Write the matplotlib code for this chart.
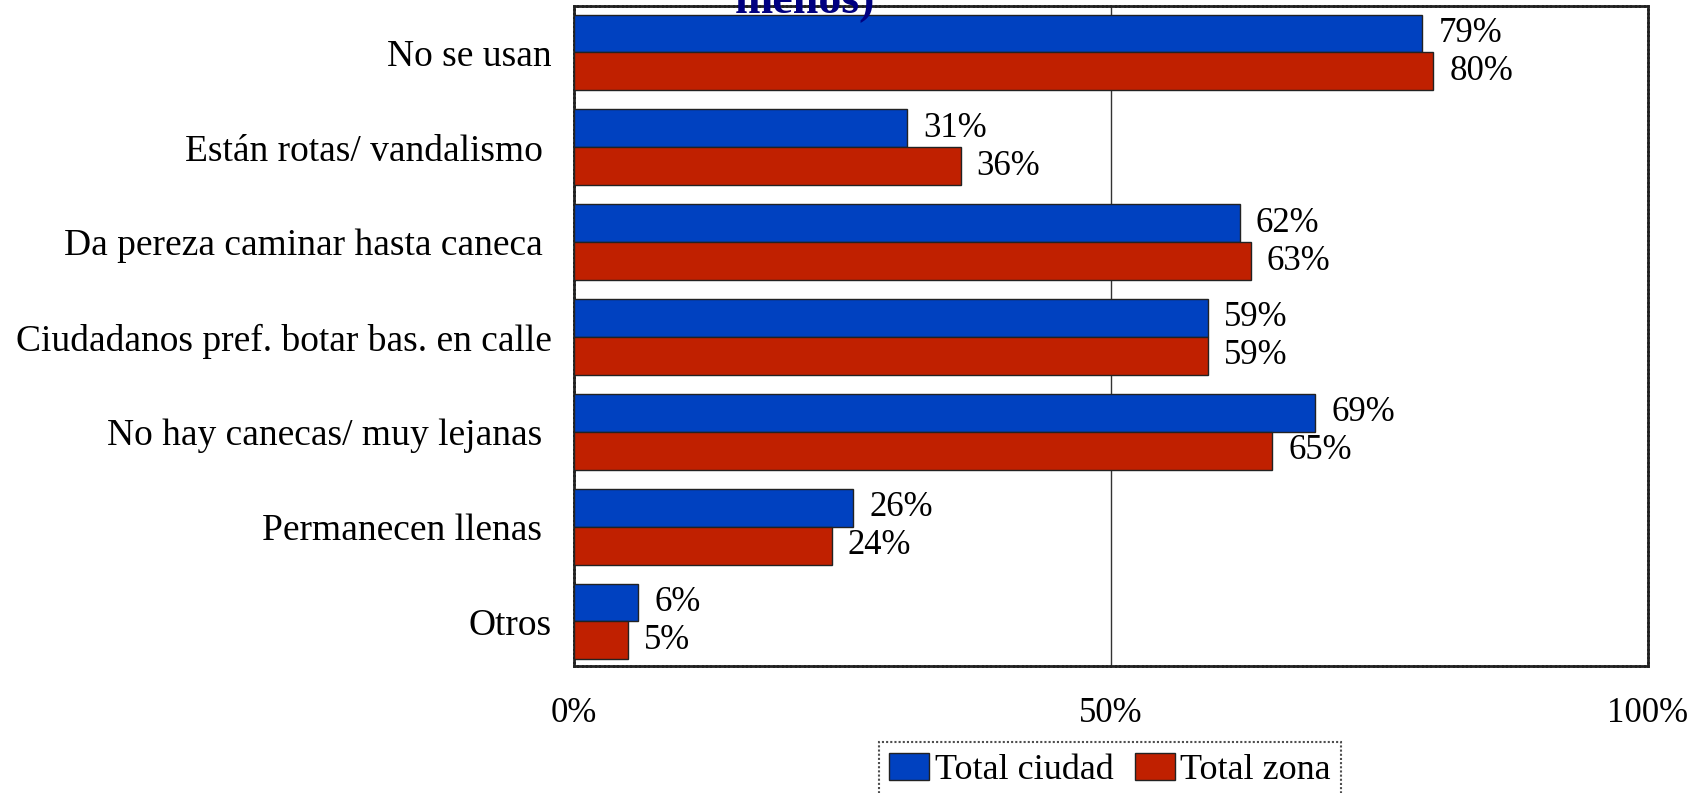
import matplotlib
matplotlib.use("Agg")
import matplotlib.pyplot as plt
import numpy as np
from matplotlib.patches import Patch

categories = ["No se usan", "Están rotas/ vandalismo ", "Da pereza caminar hasta caneca ",
              "Ciudadanos pref. botar bas. en calle", "No hay canecas/ muy lejanas ",
              "Permanecen llenas ", "Otros"]
total_ciudad = [79, 31, 62, 59, 69, 26, 6]
total_zona = [80, 36, 63, 59, 65, 24, 5]
series_names = ["Total ciudad", "Total zona"]
xticks = [0, 50, 100]
xtick_labels = ["0%", "50%", "100%"]

plt.rcParams['font.family'] = ['Liberation Serif', 'DejaVu Serif']
W, H = 1705, 793
fig = plt.figure(figsize=(W/100, H/100), dpi=100)
ax = fig.add_axes([574/W, 1-666/H, (1648-574)/W, (666-6)/H])

blue = "#0041C0"
red = "#C02000"
n = len(categories)
y = np.arange(n)
h = 0.4
ax.barh(y - h/2, total_ciudad, height=h, color=blue, edgecolor="#222222", linewidth=1, zorder=3)
ax.barh(y + h/2, total_zona, height=h, color=red, edgecolor="#222222", linewidth=1, zorder=3)
for i in range(n):
    ax.text(total_ciudad[i] + 1.5, y[i] - h/2, f"{total_ciudad[i]}%", va="center", ha="left", fontsize=25)
    ax.text(total_zona[i] + 1.5, y[i] + h/2, f"{total_zona[i]}%", va="center", ha="left", fontsize=25)

ax.set_ylim(n - 0.5 - 0.03, -0.5 + 0.01)
ax.set_xlim(0, 100)
ax.set_yticks(y)
ax.set_yticklabels(categories, fontsize=27)
ax.set_xticks(xticks)
ax.set_xticklabels(xtick_labels, fontsize=25)
ax.tick_params(axis="both", length=0)
ax.tick_params(axis="y", pad=16)
ax.tick_params(axis="x", pad=22)
ax.axvline(50, color="#333333", linewidth=1, zorder=1)
for s in ax.spines.values():
    s.set_linewidth(2)
    s.set_linestyle((0, (1, 0.6)))
    s.set_color("#222222")

fig.text(805/W, 13/H, "menos)", ha="center", va="baseline", fontsize=33, fontweight="bold",
         color="#000080", transform=fig.transFigure)
fig.texts[-1].set_y(1 - 13/H)

handles = [Patch(facecolor=blue, edgecolor="#222222"), Patch(facecolor=red, edgecolor="#222222")]
leg = fig.legend(handles, series_names, loc="center", bbox_to_anchor=(1110/W, 1 - 770/H), ncol=2,
                 fontsize=26, frameon=True, fancybox=False, edgecolor="#222222",
                 handlelength=1.1, handleheight=0.8, handletextpad=0.15, columnspacing=0.6,
                 borderpad=0.3, borderaxespad=0)
leg.get_frame().set_linewidth(1.5)
leg.get_frame().set_linestyle((0, (1, 1)))

fig.savefig("out.png", dpi=100)
